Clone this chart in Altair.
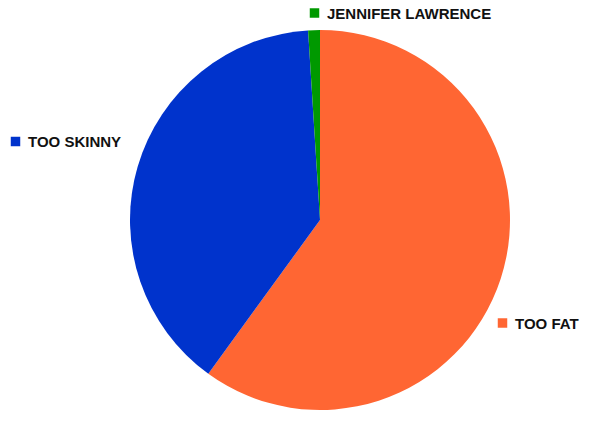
import altair as alt
import pandas as pd

categories = ["TOO FAT", "TOO SKINNY", "JENNIFER LAWRENCE"]
values = [60, 39, 1]
colors = ["#ff6633", "#0033cc", "#009900"]

df = pd.DataFrame({"category": categories, "value": values, "order": [0, 1, 2]})

color_scale = alt.Scale(domain=categories, range=colors)

TOP = 8  # extra top padding so top label is not clipped

pie = alt.Chart(df).mark_arc(radius=190, stroke=None).encode(
    theta=alt.Theta("value:Q", stack=True),
    order=alt.Order("order:Q"),
    color=alt.Color("category:N", scale=color_scale, legend=None),
    x=alt.value(312),
    y=alt.value(212 - TOP),
)

label_pos = {
    "JENNIFER LAWRENCE": (306.5, 5 - TOP),
    "TOO SKINNY": (7.5, 133.5 - TOP),
    "TOO FAT": (494.5, 315 - TOP),
}

layers = [pie]
for cat in categories:
    sx, sy = label_pos[cat]
    sub = df[df["category"] == cat]
    sq = alt.Chart(sub).mark_square(size=90, opacity=1).encode(
        color=alt.Color("category:N", scale=color_scale, legend=None),
        x=alt.value(sx),
        y=alt.value(sy),
    )
    tx = alt.Chart(sub).mark_text(
        align="left", baseline="middle", font="Liberation Sans",
        fontWeight="bold", fontSize=15, color="#111111"
    ).encode(
        text="category:N",
        x=alt.value(sx + 12.5),
        y=alt.value(sy + 0.5),
    )
    layers += [sq, tx]

chart = alt.layer(*layers).properties(
    width=594, height=418 - TOP,
    autosize=alt.AutoSizeParams(type="none"),
    padding={"left": 0, "top": TOP, "right": 0, "bottom": 0},
).configure_view(stroke=None)

chart.save("out.html", embed_options={"renderer": "svg", "actions": False})
